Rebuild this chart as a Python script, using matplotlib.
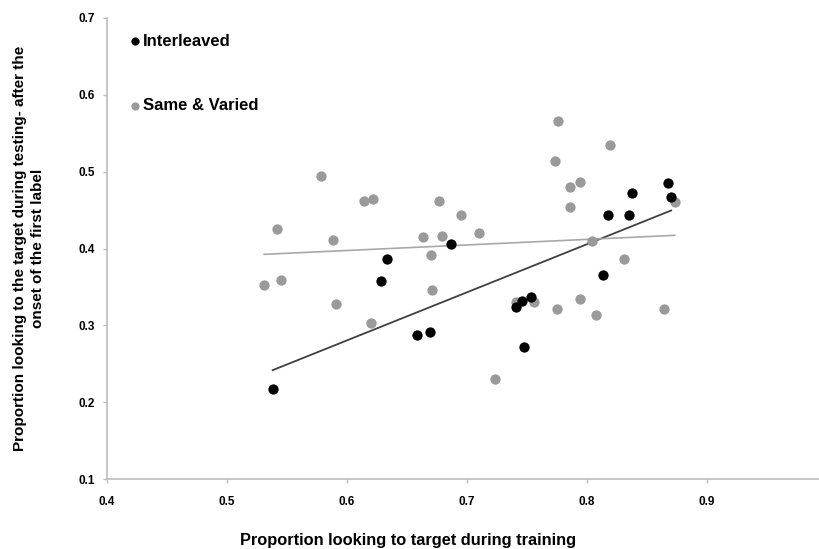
import numpy as np
import matplotlib
matplotlib.use("Agg")
import matplotlib.pyplot as plt

plt.rcParams['font.family'] = ['Liberation Sans Narrow', 'Liberation Sans', 'DejaVu Sans']
plt.rcParams['font.weight'] = 'bold'

# Interleaved group (black dots)
inter_x = [0.538, 0.628, 0.633, 0.687, 0.658, 0.669, 0.741, 0.746, 0.753, 0.747,
           0.813, 0.817, 0.835, 0.837, 0.867, 0.870]
inter_y = [0.217, 0.358, 0.386, 0.406, 0.288, 0.291, 0.324, 0.332, 0.337, 0.272,
           0.366, 0.444, 0.444, 0.472, 0.485, 0.467]

# Same & Varied group (gray dots)
same_x = [0.531, 0.542, 0.545, 0.578, 0.588, 0.591, 0.614, 0.622, 0.620, 0.663,
          0.670, 0.671, 0.677, 0.679, 0.695, 0.710, 0.723, 0.776, 0.819, 0.773,
          0.786, 0.794, 0.786, 0.873, 0.804, 0.831, 0.741, 0.756, 0.775, 0.794,
          0.807, 0.864]
same_y = [0.353, 0.426, 0.359, 0.495, 0.411, 0.328, 0.462, 0.465, 0.303, 0.415,
          0.392, 0.346, 0.462, 0.416, 0.444, 0.420, 0.230, 0.566, 0.535, 0.514,
          0.480, 0.487, 0.454, 0.461, 0.410, 0.386, 0.330, 0.330, 0.321, 0.334,
          0.314, 0.321]

xticks = [0.4, 0.5, 0.6, 0.7, 0.8, 0.9]
yticks = [0.1, 0.2, 0.3, 0.4, 0.5, 0.6, 0.7]

fig = plt.figure(figsize=(8.2, 5.49), dpi=100)
ax = fig.add_axes([107 / 820, 1 - 479 / 549, 1 - 107 / 820, (479 - 18) / 549])

ax.scatter(inter_x, inter_y, s=55, color='#000000', linewidths=0, zorder=3, label='Interleaved')
ax.scatter(same_x, same_y, s=55, color='#9a9a9a', linewidths=0, zorder=2, label='Same & Varied')

# linear trend lines for each group
for xs, ys, col, lw in [(inter_x, inter_y, '#404040', 1.3), (same_x, same_y, '#a8a8a8', 1.2)]:
    xs = np.array(xs)
    ys = np.array(ys)
    k, b = np.polyfit(xs, ys, 1)
    xx = np.array([xs.min(), xs.max()])
    ax.plot(xx, k * xx + b, color=col, lw=lw, zorder=1)

ax.set_xlim(0.4, 0.994)
ax.set_ylim(0.1, 0.7)
ax.set_xticks(xticks)
ax.set_yticks(yticks)
ax.set_xticklabels([f'{t:.1f}' for t in xticks], fontsize=8.5, fontweight='bold')
ax.set_yticklabels([f'{t:.1f}' for t in yticks], fontsize=8.5, fontweight='bold')
for s in ['top', 'right']:
    ax.spines[s].set_visible(False)
for s in ['left', 'bottom']:
    ax.spines[s].set_color('#bdbdbd')
    ax.spines[s].set_linewidth(1.2)
ax.tick_params(axis='both', color='#bdbdbd', length=3, width=1)
ax.tick_params(axis='x', pad=9)
ax.tick_params(axis='y', pad=5.5)

leg = ax.legend(loc='upper left', bbox_to_anchor=(0.032, 0.966), frameon=False,
                borderpad=0, borderaxespad=0, handlelength=0.6,
                handletextpad=0.2, labelspacing=2.98, markerscale=0.8,
                prop={'size': 12, 'weight': 'bold'})

fig.text(408 / 820, 1 - 541 / 549, 'Proportion looking to target during training',
         ha='center', va='center', fontsize=11.8, fontweight='bold')
fig.text(29 / 820, 1 - 248 / 549,
         'Proportion looking to the target during testing- after the\nonset of the first label',
         ha='center', va='center', rotation=90, fontsize=11, fontweight='bold',
         linespacing=1.35)

fig.savefig('out.png', dpi=100)
